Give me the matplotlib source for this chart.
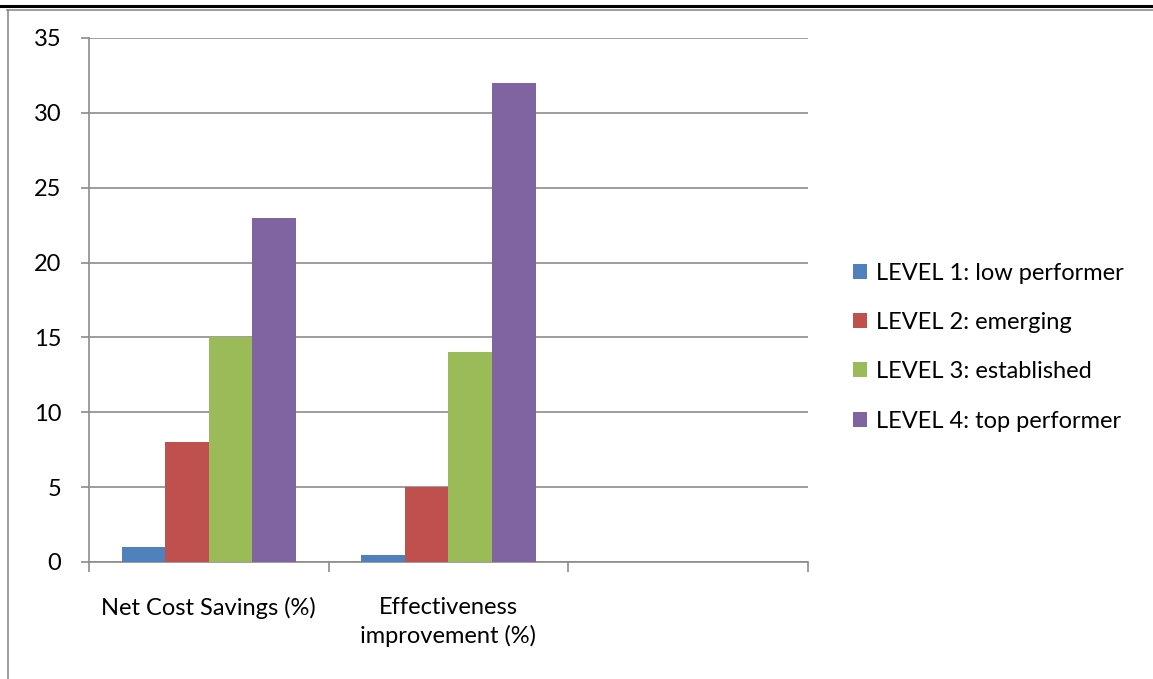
import matplotlib.pyplot as plt
from matplotlib.lines import Line2D
import numpy as np

plt.rcParams['font.family'] = ['Lato', 'DejaVu Sans']

categories = ["Net Cost Savings (%)", "Effectiveness\nimprovement (%)", ""]
series_names = ["LEVEL 1: low performer", "LEVEL 2: emerging",
                "LEVEL 3: established", "LEVEL 4: top performer"]
series_values = [
    [1, 0.5, 0],
    [8, 5, 0],
    [15, 14, 0],
    [23, 32, 0],
]
colors = ["#4F81BD", "#C0504D", "#9BBB59", "#8064A2"]
y_ticks = [0, 5, 10, 15, 20, 25, 30, 35]

fig = plt.figure(figsize=(11.53, 6.79), dpi=100)
ax = fig.add_axes([89 / 1153, 1 - 562 / 679, (808 - 89) / 1153, (562 - 38) / 679])

x = np.arange(len(categories))
width = 1 / 5.5
for i, (name, vals) in enumerate(zip(series_names, series_values)):
    ax.bar(x + (i - 1.5) * width, vals, width, color=colors[i], label=name,
           zorder=3, edgecolor="none")

ax.set_xlim(-0.5, len(categories) - 0.5)
ax.set_ylim(0, 35)
ax.set_yticks(y_ticks)
ax.yaxis.grid(True, color="#8C8C8C", linewidth=1.2, zorder=0)
ax.tick_params(axis="y", length=6, width=1.2, color="#8C8C8C", pad=14, labelsize=17)

# category boundaries carry the tick marks, labels sit on minor ticks
ax.set_xticks(np.arange(len(categories) + 1) - 0.5)
ax.set_xticklabels([])
ax.tick_params(axis="x", which="major", length=7, width=1.2, color="#8C8C8C")
ax.set_xticks(x, minor=True)
ax.set_xticklabels(categories, minor=True, fontsize=17, va="top", linespacing=1.4)
ax.tick_params(axis="x", which="minor", length=0, pad=25)

for side in ["top", "right"]:
    ax.spines[side].set_visible(False)
for side in ["left", "bottom"]:
    ax.spines[side].set_color("#8C8C8C")
    ax.spines[side].set_linewidth(1.2)

fig.legend(loc="center left", bbox_to_anchor=(832 / 1153, 1 - 347 / 679),
           frameon=False, fontsize=17, handlelength=0.6, handleheight=0.6,
           handletextpad=0.35, labelspacing=1.2)

# page border lines around the chart
fig.add_artist(Line2D([0, 1], [1 - 5.5 / 679, 1 - 5.5 / 679], color="black", linewidth=2.2))
fig.add_artist(Line2D([7 / 1153, 1], [1 - 10 / 679, 1 - 10 / 679], color="#8C8C8C", linewidth=1.2))
fig.add_artist(Line2D([8 / 1153, 8 / 1153], [0, 1 - 10 / 679], color="#8C8C8C", linewidth=1.2))

fig.savefig("out.png", dpi=100)
